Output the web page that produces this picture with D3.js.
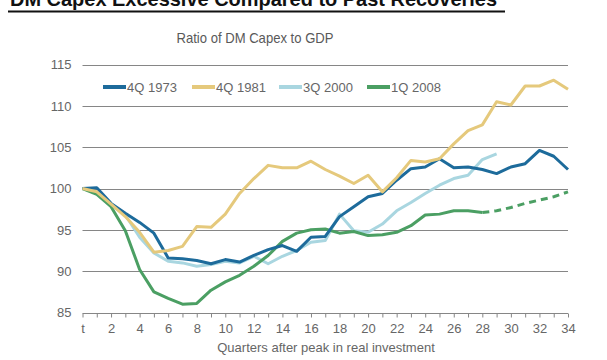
<!DOCTYPE html>
<html><head><meta charset="utf-8">
<script src="https://cdn.jsdelivr.net/npm/d3@7"></script>
<style>body{margin:0;background:#fff}svg{display:block}text{font-family:"Liberation Sans",Arial,sans-serif}</style>
</head><body>
<svg id="c" width="607" height="360"></svg>
<script>
const quarters = d3.range(0, 35);
const xTickLabels = ["t","2","4","6","8","10","12","14","16","18","20","22","24","26","28","30","32","34"];
const yTicks = [85, 90, 95, 100, 105, 110, 115];
const seriesNames = ["4Q 1973", "4Q 1981", "3Q 2000", "1Q 2008"];
const colors = ["#1d6b9b", "#e5c97c", "#a9d6e0", "#4b9f63"];
const s1973 = [100,100.1,98.2,97.0,95.9,94.6,91.6,91.5,91.3,90.9,91.4,91.1,91.9,92.6,93.1,92.4,94.1,94.2,96.6,97.8,99.0,99.4,101.0,102.4,102.6,103.6,102.5,102.6,102.3,101.8,102.6,103.0,104.6,103.9,102.3];
const s1981 = [100,99.6,98.1,96.6,94.7,92.3,92.5,93.0,95.4,95.3,96.9,99.4,101.2,102.8,102.5,102.5,103.3,102.3,101.5,100.6,101.6,99.6,101.3,103.4,103.2,103.6,105.4,107.0,107.7,110.5,110.1,112.4,112.4,113.1,112.0];
const s2000 = [100,99.5,98.0,96.8,94.1,92.2,91.2,91.0,90.6,90.8,91.2,91.0,91.8,90.9,91.8,92.5,93.5,93.7,96.9,94.9,94.7,95.7,97.3,98.3,99.4,100.4,101.2,101.6,103.5,104.2];
const s2008 = [100,99.3,97.8,94.9,90.2,87.5,86.7,86.0,86.1,87.7,88.7,89.5,90.6,91.9,93.6,94.6,95.0,95.1,94.6,94.8,94.3,94.4,94.7,95.5,96.8,96.9,97.3,97.3,97.1];
const s2008proj = [97.1,97.3,97.7,98.2,98.6,99.0,99.6];
const projStart = 28;

const svg = d3.select("#c");
const x = d3.scaleLinear().domain([0, 34]).range([82.5, 568]);
const y = d3.scaleLinear().domain([85, 115]).range([312.5, 64.5]);
const grey = "#666";

// top cut-off headline and rule
svg.append("text").attr("x", 10).attr("y", 6).attr("font-size", 20).attr("font-weight", "bold")
  .attr("fill", "#111").attr("textLength", 487).attr("lengthAdjust", "spacingAndGlyphs")
  .text("DM Capex Excessive Compared to Past Recoveries");
svg.append("line").attr("x1", 8).attr("x2", 505).attr("y1", 11.5).attr("y2", 11.5)
  .attr("stroke", "#111").attr("stroke-width", 2);

svg.append("text").attr("x", 255).attr("y", 43).attr("text-anchor", "middle")
  .attr("font-size", 14.5).attr("fill", "#595959")
  .attr("textLength", 157).attr("lengthAdjust", "spacingAndGlyphs")
  .text("Ratio of DM Capex to GDP");

// gridlines
svg.append("g").selectAll("line").data(yTicks.filter(d => d > 85)).join("line")
  .attr("x1", x(0)).attr("x2", x(34)).attr("y1", d => Math.round(y(d)) + 0.5).attr("y2", d => Math.round(y(d)) + 0.5)
  .attr("stroke", "#868686").attr("stroke-width", 1);

// y axis labels
const yAxis = d3.axisLeft(y).tickValues(yTicks).tickSize(0).tickPadding(11);
const gy = svg.append("g").attr("transform", `translate(${x(0)},0)`).call(yAxis);
gy.select(".domain").remove();
gy.selectAll("text").attr("font-size", 13).attr("fill", grey).attr("font-family", "Liberation Sans, Arial, sans-serif");

// x axis
const xAxis = d3.axisBottom(x).tickValues(quarters).tickSize(4).tickPadding(6)
  .tickFormat(d => d % 2 === 0 ? xTickLabels[d / 2] : "");
const gx = svg.append("g").attr("transform", `translate(0,${Math.round(y(85)) + 0.5})`).call(xAxis);
gx.select(".domain").attr("stroke", "#868686").attr("d", `M${x(0)},0H${x(34)}`);
gx.selectAll(".tick line").attr("stroke", "#868686");
gx.selectAll("text").attr("font-size", 13).attr("fill", grey).attr("font-family", "Liberation Sans, Arial, sans-serif");

svg.append("text").attr("x", 326).attr("y", 352).attr("text-anchor", "middle")
  .attr("font-size", 13).attr("fill", grey).text("Quarters after peak in real investment");

// lines
const line = d3.line().x(d => x(d[0])).y(d => y(d[1]));
const all = [s1973, s1981, s2000, s2008];
const order = [2, 3, 0, 1];
order.forEach(i => {
  const data = all[i].map((v, k) => [k, v]);
  svg.append("path").attr("d", line(data)).attr("fill", "none")
    .attr("stroke", colors[i]).attr("stroke-width", 3).attr("stroke-linejoin", "round");
});
svg.append("path").attr("d", line(s2008proj.map((v, k) => [projStart + k, v])))
  .attr("fill", "none").attr("stroke", colors[3]).attr("stroke-width", 3).attr("stroke-dasharray", "7,5");

// legend
const legX = [103, 192, 279, 367];
const legY = 87;
seriesNames.forEach((n, i) => {
  svg.append("line").attr("x1", legX[i]).attr("x2", legX[i] + 23).attr("y1", legY).attr("y2", legY)
    .attr("stroke", colors[i]).attr("stroke-width", 4);
  svg.append("text").attr("x", legX[i] + 24).attr("y", legY + 5).attr("font-size", 13)
    .attr("fill", grey).text(n);
});
</script>
</body></html>
